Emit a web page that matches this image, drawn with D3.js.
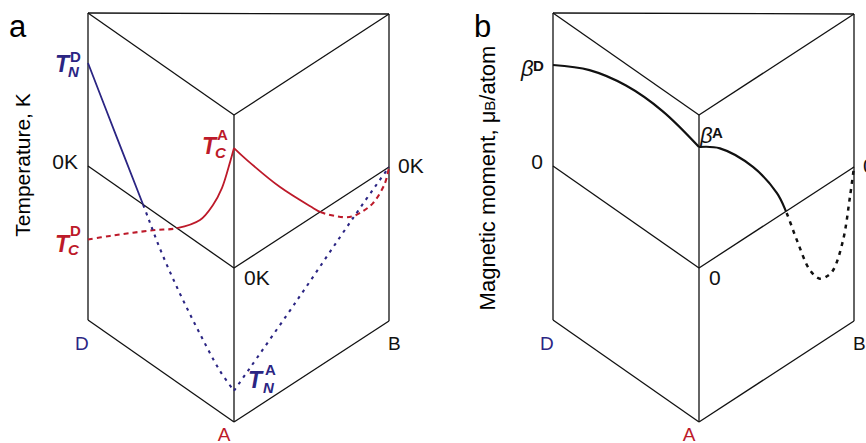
<!DOCTYPE html>
<html>
<head>
<meta charset="utf-8">
<script src="https://cdn.jsdelivr.net/npm/d3@7"></script>
<style>
  body { margin: 0; background: #fff; }
  svg { display: block; }
  text { font-family: "Liberation Sans", Arial, Helvetica, sans-serif; }
</style>
</head>
<body>
<svg id="chart" width="866" height="443"></svg>
<script>
// Composition coordinate: 0 = D, 1 = A, 2 = B (D–A and A–B sections of the prism)
const vertexNames = ["D", "A", "B"];
const vertexComp = [0, 1, 2];
// Vertical coordinate in relative units: 0 = zero plane (0 K / 0 µB), ±1 = prism caps
const capLevels = [-1, 0, 1];

// Panel a: Néel temperature T_N, [composition, relative temperature]
const neelDA = [[0, 0.673], [0.2, 0.314], [0.377, 0], [0.5, -0.222], [0.63, -0.412],
                [0.767, -0.582], [0.904, -0.732], [1, -0.797]];
const neelAB = [[1, -0.797], [1.4, -0.482], [1.77, -0.178], [2, 0]];
// Panel a: Curie temperature T_C
const curieDA = [[0, -0.477], [0.151, -0.354], [0.308, -0.229], [0.459, -0.112], [0.61, 0],
                 [0.767, 0.158], [0.856, 0.316], [0.918, 0.469], [0.973, 0.674], [1, 0.784]];
const curieAB = [[1, 0.784], [1.084, 0.650], [1.297, 0.333], [1.51, 0.056], [1.555, 0],
                 [1.703, -0.131], [1.768, -0.167], [1.83, -0.176], [1.897, -0.167],
                 [1.974, -0.088], [2, 0]];
// Panel b: magnetic moment per atom
const momentDA = [[0, 0.660], [0.25, 0.793], [0.5, 0.859], [0.75, 0.859], [1, 0.791]];
const momentAB = [[1, 0.791], [1.135, 0.693], [1.348, 0.431], [1.503, 0.157], [1.561, 0],
                  [1.632, -0.235], [1.716, -0.484], [1.781, -0.582], [1.823, -0.595],
                  [1.865, -0.582], [1.929, -0.431], [1.974, -0.176], [2, 0]];

// Zero-plane labels
const zeroLabelsA = ["0K", "0K", "0K"];
const zeroLabelsB = ["0", "0", "0"];

const NAVY = "#2b2583";
const RED = "#bd1a2a";

const svg = d3.select("#chart");
const defs = svg.append("defs");

// Oblique projection shared by both panels
const zeroY = d3.scaleLinear().domain(vertexComp).range([166, 268, 167]);
const vY = d3.scaleLinear().domain(capLevels).range([154, 0, -153]);

function drawPrism(g, xs) {
  const P = (c, v) => [xs(c), zeroY(c) + vY(v)];
  const edges = [];
  vertexComp.forEach(c => edges.push([P(c, -1), P(c, 1)]));          // vertical edges
  edges.push([P(0, 1), P(1, 1)], [P(1, 1), P(2, 1)], [P(0, 1), P(2, 1)]); // top cap
  edges.push([P(0, 0), P(1, 0)], [P(1, 0), P(2, 0)]);                   // zero plane
  edges.push([P(0, -1), P(1, -1)], [P(1, -1), P(2, -1)]);               // base
  g.append("g").selectAll("line").data(edges).join("line")
    .attr("x1", d => d[0][0]).attr("y1", d => d[0][1])
    .attr("x2", d => d[1][0]).attr("y2", d => d[1][1])
    .attr("stroke", "#111").attr("stroke-width", 1.3);
}

// Clip regions above / below the zero plane: solid above, dashed below
function zeroClips(id, xs) {
  const ext = [-0.3, 1, 2.3];   // zero-plane line, extended past D and B
  const edge = ext.map(c => [xs(c), zeroY(c)]);
  const l = edge[0][0], r = edge[2][0];
  const above = [...edge, [r, -50], [l, -50]];
  const below = [...edge, [r, 600], [l, 600]];
  defs.append("clipPath").attr("id", id + "-above")
    .append("polygon").attr("points", above.map(p => p.join(",")).join(" "));
  defs.append("clipPath").attr("id", id + "-below")
    .append("polygon").attr("points", below.map(p => p.join(",")).join(" "));
}

function drawCurve(g, id, xs, points, color, width, dash) {
  const line = d3.line()
    .x(d => xs(d[0]))
    .y(d => zeroY(d[0]) + vY(d[1]))
    .curve(d3.curveCatmullRom.alpha(0.5));
  const d = line(points);
  g.append("path").attr("d", d).attr("clip-path", `url(#${id}-above)`)
    .attr("fill", "none").attr("stroke", color).attr("stroke-width", width);
  g.append("path").attr("d", d).attr("clip-path", `url(#${id}-below)`)
    .attr("fill", "none").attr("stroke", color).attr("stroke-width", width + 0.3)
    .attr("stroke-dasharray", dash);
}

// Symbol with stacked superscript / subscript
function symbol(g, x, y, main, sup, sub, color, o) {
  const t = g.append("g").attr("fill", color);
  t.append("text").attr("x", x).attr("y", y).text(main)
    .attr("font-size", o.size).attr("font-weight", o.mainWeight || "bold")
    .attr("font-style", "italic").attr("font-family", o.family || null);
  if (sup) t.append("text").attr("x", x + o.supDx).attr("y", y + o.supDy).text(sup)
    .attr("font-size", o.small).attr("font-weight", "bold");
  if (sub) t.append("text").attr("x", x + o.subDx).attr("y", y + o.subDy).text(sub)
    .attr("font-size", o.small).attr("font-weight", "bold").attr("font-style", "italic");
}

function vertexLabels(g, xs, zeroText) {
  const colors = [NAVY, RED, "#111"];
  const dx = [-13, -10, -1];
  const anchor = ["start", "middle", "start"];
  const dy = [184, 173, 183];
  vertexComp.forEach((c, i) => {
    g.append("text")
      .attr("x", xs(c) + dx[i]).attr("y", zeroY(c) + dy[i])
      .attr("text-anchor", anchor[i]).attr("font-size", 19)
      .attr("fill", colors[i]).text(vertexNames[i]);
  });
  // zero-plane tick labels
  const zx = [-10, 10, 9], zy = [3, 17, 6], za = ["end", "start", "start"];
  vertexComp.forEach((c, i) => {
    g.append("text")
      .attr("x", xs(c) + zx[i]).attr("y", zeroY(c) + zy[i])
      .attr("text-anchor", za[i]).attr("font-size", 21)
      .attr("fill", "#111").text(zeroText[i]);
  });
}

// ---------- Panel a: transition temperatures ----------
const xsA = d3.scaleLinear().domain(vertexComp).range([88, 234, 389]);
const ga = svg.append("g");
zeroClips("pa", xsA);
drawPrism(ga, xsA);
drawCurve(ga, "pa", xsA, curieDA, RED, 1.8, "5,4");
drawCurve(ga, "pa", xsA, curieAB, RED, 1.8, "5,4");
drawCurve(ga, "pa", xsA, neelDA, NAVY, 1.8, "3,5");
drawCurve(ga, "pa", xsA, neelAB, NAVY, 1.8, "3,5");
vertexLabels(ga, xsA, zeroLabelsA);

ga.append("text").attr("x", 9).attr("y", 37).attr("font-size", 31).text("a");
ga.append("text")
  .attr("transform", "translate(30,165) rotate(-90)")
  .attr("text-anchor", "middle").attr("font-size", 21).text("Temperature, K");

const tOpt = { size: 23, small: 15, supDx: 15, supDy: -10, subDx: 13, subDy: 5 };
symbol(ga, 55, 72, "T", "D", "N", NAVY, tOpt);
symbol(ga, 55, 252, "T", "D", "C", RED, { ...tOpt, supDy: -16, subDy: 3 });
symbol(ga, 202, 154, "T", "A", "C", RED, { ...tOpt, supDy: -14, subDy: 4 });
symbol(ga, 248, 388, "T", "A", "N", NAVY, { ...tOpt, supDx: 17, supDy: -13, subDx: 15, subDy: 5 });

// ---------- Panel b: magnetic moment ----------
const xsB = d3.scaleLinear().domain(vertexComp).range([553, 699, 854]);
const gb = svg.append("g");
zeroClips("pb", xsB);
drawPrism(gb, xsB);
drawCurve(gb, "pb", xsB, momentDA, "#111", 2.2, "4,5");
drawCurve(gb, "pb", xsB, momentAB, "#111", 2.2, "4,5");
vertexLabels(gb, xsB, zeroLabelsB);

gb.append("text").attr("x", 474).attr("y", 37).attr("font-size", 31).text("b");
const mLabel = gb.append("text")
  .attr("transform", "translate(495,178) rotate(-90)")
  .attr("text-anchor", "middle").attr("font-size", 22);
mLabel.append("tspan").text("Magnetic moment, \u03bc");
mLabel.append("tspan").attr("font-size", 15).text("B");
mLabel.append("tspan").text("/atom");

const bOpt = { size: 22, small: 15, family: "Liberation Serif", mainWeight: "normal",
               supDx: 12, supDy: -5, subDx: 0, subDy: 0 };
symbol(gb, 521, 76, "\u03b2", "D", null, "#111", bOpt);
symbol(gb, 700, 143, "\u03b2", "A", null, "#111", bOpt);
</script>
</body>
</html>
